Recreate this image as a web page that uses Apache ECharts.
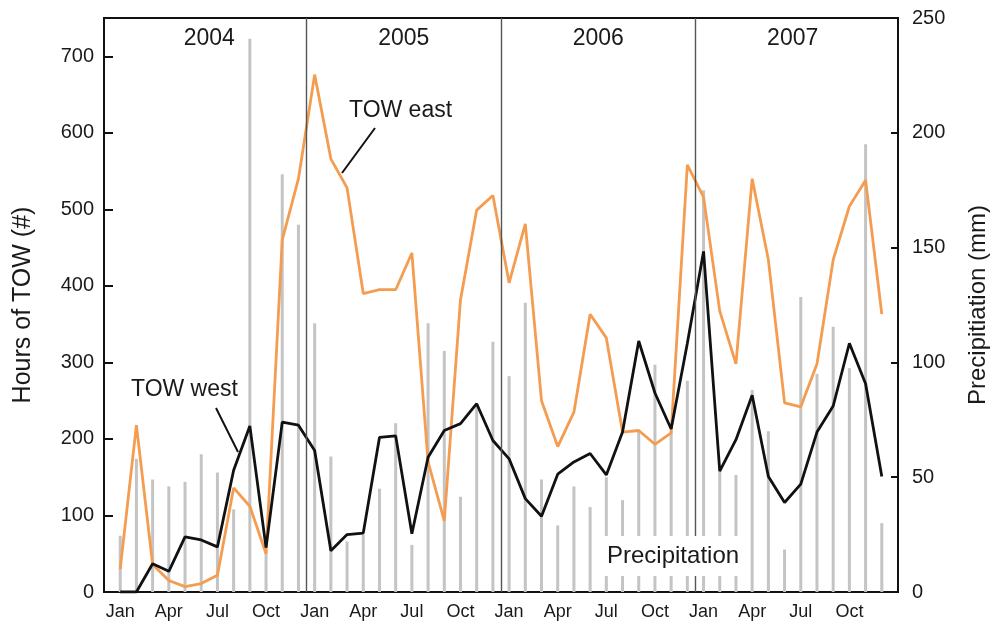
<!DOCTYPE html>
<html>
<head>
<meta charset="utf-8">
<script src="https://cdn.jsdelivr.net/npm/echarts@6/dist/echarts.min.js"></script>
<style>
html,body{margin:0;padding:0;background:#fff;}
#chart{width:991px;height:625px;}
</style>
</head>
<body>
<div id="chart"></div>
<script>
// ---- data (monthly, Jan 2004 .. Dec 2007) ----
const monthNames = ['Jan','Feb','Mar','Apr','May','Jun','Jul','Aug','Sep','Oct','Nov','Dec'];
const years = ['2004','2005','2006','2007'];
const monthTickLabels = ['Jan','Apr','Jul','Oct'];

const towEast = [
  30, 218, 36, 15, 7, 11, 22, 136, 112, 50, 460, 540,
  676, 566, 528, 390, 395, 395, 443, 170, 93, 382, 499, 518,
  404, 481, 250, 190, 235, 363, 332, 209, 211, 193, 208, 558,
  516, 367, 298, 540, 434, 247, 242, 298, 434, 504, 538, 363
];
const towWest = [
  0, 0, 37, 27, 72, 68, 59, 159, 217, 58, 222, 218,
  185, 54, 75, 77, 202, 204, 76, 176, 211, 220, 246, 198,
  174, 122, 99, 154, 170, 181, 153, 209, 328, 260, 213, 325,
  445, 158, 199, 257, 151, 117, 141, 209, 243, 325, 272, 151
];
const precipitation = [
  24.5, 58, 49, 46, 48, 60, 52, 36, 241, 18, 182, 160,
  117, 59, 22, 25, 45, 73.5, 20.5, 117, 105, 41.5, 82, 109,
  94, 126, 49, 29, 46, 37, 50, 40, 70, 99, 70, 92,
  175, 55, 51, 88, 70, 18.5, 128.5, 95, 115.5, 97.5, 195, 30
];
const leftTicks = [0, 100, 200, 300, 400, 500, 600, 700];
const rightTicks = [0, 50, 100, 150, 200, 250];

// ---- build ----
const FONT = 'Liberation Sans, Arial, Helvetica, sans-serif';
const pts = arr => arr.map((v, i) => [i, v]);
const labelPositions = [];
precipitation.forEach((_, i) => {
  if (monthTickLabels.indexOf(monthNames[i % 12]) >= 0) labelPositions.push(i);
});
const yearSeparators = years.slice(1).map((y, k) => ({ xAxis: (k + 1) * 12 - 0.5 }));
const yearAreas = years.map((y, k) => [
  { xAxis: k * 12, name: y },
  { xAxis: k * 12 + 11 }
]);

const chart = echarts.init(document.getElementById('chart'), null, { renderer: 'canvas' });
chart.setOption({
  animation: false,
  backgroundColor: '#fff',
  textStyle: { fontFamily: FONT },
  grid: {
    left: 104, right: 93, top: 18, bottom: 33,
    containLabel: false, outerBoundsMode: 'none',
    show: true, borderColor: '#111', borderWidth: 2, backgroundColor: 'transparent'
  },
  xAxis: {
    type: 'value', min: -1, max: 48,
    axisLine: { show: true, onZero: false, lineStyle: { color: '#111', width: 2 } },
    axisTick: { show: false },
    splitLine: { show: false },
    axisLabel: {
      customValues: labelPositions,
      formatter: v => monthNames[((v % 12) + 12) % 12],
      color: '#1a1a1a', fontSize: 18, margin: 11, fontFamily: FONT
    }
  },
  yAxis: [
    {
      type: 'value', min: 0, max: 750, interval: 100,
      name: 'Hours of TOW (#)', nameLocation: 'middle', nameGap: 68, nameRotate: 90,
      nameTextStyle: { fontSize: 25, color: '#1a1a1a', fontFamily: FONT },
      axisLine: { show: true, onZero: false, lineStyle: { color: '#111', width: 2 } },
      axisTick: { show: true, inside: true, length: 9, lineStyle: { color: '#111', width: 2 },
                  customValues: leftTicks },
      axisLabel: { customValues: leftTicks, fontSize: 20, color: '#1a1a1a', margin: 10, fontFamily: FONT },
      splitLine: { show: false }
    },
    {
      type: 'value', position: 'right', min: 0, max: 250, interval: 50,
      name: 'Precipitiation (mm)', nameLocation: 'middle', nameGap: 68, nameRotate: 90,
      nameTextStyle: { fontSize: 24, color: '#1a1a1a', fontFamily: FONT },
      axisLine: { show: true, onZero: false, lineStyle: { color: '#111', width: 2 } },
      axisTick: { show: true, inside: true, length: 7, lineStyle: { color: '#111', width: 2 },
                  customValues: rightTicks },
      axisLabel: { customValues: rightTicks, fontSize: 20, color: '#1a1a1a', margin: 14, fontFamily: FONT },
      splitLine: { show: false }
    }
  ],
  series: [
    {
      name: 'Precipitation', type: 'bar', yAxisIndex: 1,
      data: pts(precipitation), barWidth: 3,
      itemStyle: { color: '#c4c4c4' },
      z: 1,
      markLine: {
        silent: true, symbol: ['none', 'none'], label: { show: false },
        lineStyle: { color: '#555', width: 1.4, type: 'solid' },
        data: yearSeparators
      },
      markArea: {
        silent: true,
        itemStyle: { color: 'rgba(0,0,0,0)' },
        label: { show: true, position: 'insideTop', distance: 9, fontSize: 23, color: '#1a1a1a', fontFamily: FONT },
        data: yearAreas
      }
    },
    {
      name: 'TOW east', type: 'line', yAxisIndex: 0,
      data: pts(towEast), symbol: 'none',
      lineStyle: { color: '#F49C50', width: 2.8 },
      z: 3
    },
    {
      name: 'TOW west', type: 'line', yAxisIndex: 0,
      data: pts(towWest), symbol: 'none',
      lineStyle: { color: '#111111', width: 2.8 },
      z: 4
    }
  ],
  graphic: [
    { type: 'text', left: 349, top: 99, z: 10,
      style: { text: 'TOW east', fontSize: 23, fill: '#1a1a1a', fontFamily: FONT } },
    { type: 'line', z: 10, shape: { x1: 375, y1: 128, x2: 342, y2: 173 },
      style: { stroke: '#111', lineWidth: 2 } },
    { type: 'text', left: 131, top: 378, z: 10,
      style: { text: 'TOW west', fontSize: 23, fill: '#1a1a1a', fontFamily: FONT } },
    { type: 'line', z: 10, shape: { x1: 216, y1: 408, x2: 238, y2: 452 },
      style: { stroke: '#111', lineWidth: 2 } },
    { type: 'text', left: 601, top: 536, z: 10,
      style: { text: 'Precipitation', fontSize: 24, fill: '#1a1a1a', fontFamily: FONT,
               backgroundColor: '#fff', padding: [8, 6, 8, 6] } }
  ]
});
</script>
</body>
</html>
